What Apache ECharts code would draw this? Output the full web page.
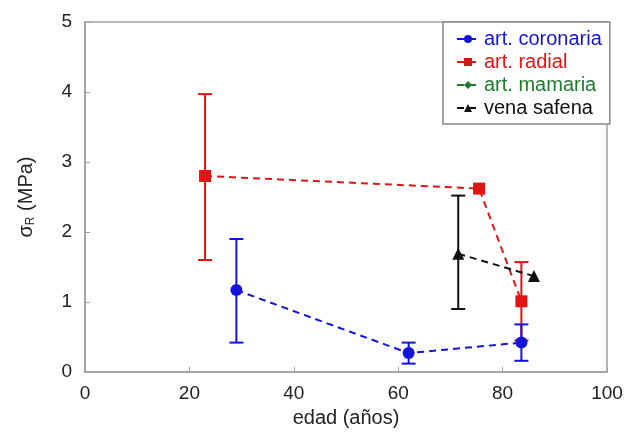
<!DOCTYPE html>
<html>
<head>
<meta charset="utf-8">
<script src="https://cdn.jsdelivr.net/npm/echarts@6/dist/echarts.min.js"></script>
<style>
  html, body { margin: 0; padding: 0; background: #fff; }
  #Echarts { width: 640px; height: 433px; }
</style>
</head>
<body>
<div id="Echarts"></div>
<script>
// datos
var coronariaEdad = [29, 62, 83.6];
var coronariaSigma = [1.17, 0.27, 0.42];
var coronariaMin = [0.42, 0.12, 0.16];
var coronariaMax = [1.90, 0.42, 0.68];

var radialEdad = [23, 75.5, 83.6];
var radialSigma = [2.80, 2.62, 1.01];
var radialMin = [1.60, 2.62, 0.45];
var radialMax = [3.97, 2.62, 1.57];

var mamariaEdad = [];
var mamariaSigma = [];

var safenaEdad = [71.5, 86];
var safenaSigma = [1.69, 1.37];
var safenaMin = [0.90, 1.37];
var safenaMax = [2.52, 1.37];

var xTicks = [0, 20, 40, 60, 80, 100];
var yTicks = [0, 1, 2, 3, 4, 5];

var AZUL = '#1414d8', ROJO = '#e01414', VERDE = '#1f7a2c', NEGRO = '#111';

function pares(xs, ys) {
    return xs.map(function (x, i) { return [x, ys[i]]; });
}
function barras(xs, lo, hi) {
    var out = [];
    xs.forEach(function (x, i) {
        if (hi[i] - lo[i] > 0.01) out.push([x, lo[i], hi[i]]);
    });
    return out;
}
function errorBar(color, data) {
    return {
        type: 'custom',
        silent: true,
        data: data,
        encode: { x: 0, y: [1, 2] },
        z: 1,
        renderItem: function (params, api) {
            var x = api.value(0);
            var lo = api.coord([x, api.value(1)]);
            var hi = api.coord([x, api.value(2)]);
            var w = 7;
            var st = { stroke: color, lineWidth: 2, fill: null };
            return {
                type: 'group',
                children: [
                    { type: 'line', shape: { x1: lo[0], y1: lo[1], x2: hi[0], y2: hi[1] }, style: st },
                    { type: 'line', shape: { x1: lo[0] - w, y1: lo[1], x2: lo[0] + w, y2: lo[1] }, style: st },
                    { type: 'line', shape: { x1: hi[0] - w, y1: hi[1], x2: hi[0] + w, y2: hi[1] }, style: st }
                ]
            };
        }
    };
}
function linea(name, color, symbol, size, data) {
    return {
        name: name,
        type: 'line',
        data: data,
        symbol: symbol,
        symbolSize: size,
        z: 3,
        itemStyle: { color: color },
        lineStyle: { color: color, width: 2, type: [7, 5] }
    };
}

var myChart = echarts.init(document.getElementById('Echarts'));
var option = {
    animation: false,
    textStyle: { fontFamily: 'Liberation Sans, Arial, sans-serif' },
    grid: {
        left: 85, right: 33, top: 22, bottom: 61,
        show: true, borderColor: '#a0a0a0', borderWidth: 1.5
    },
    legend: {
        orient: 'vertical',
        left: 443, top: 22,
        padding: [7, 8, 6, 13],
        itemGap: 3,
        itemWidth: 22, itemHeight: 10,
        backgroundColor: '#fff',
        borderColor: '#888', borderWidth: 1.5,
        textStyle: { fontSize: 20 },
        data: [
            { name: 'art. coronaria', textStyle: { color: AZUL } },
            { name: 'art. radial', textStyle: { color: ROJO } },
            { name: 'art. mamaria', textStyle: { color: VERDE } },
            { name: 'vena safena', textStyle: { color: NEGRO } }
        ]
    },
    xAxis: {
        type: 'value', min: xTicks[0], max: xTicks[xTicks.length - 1], interval: 20,
        name: 'edad (años)', nameLocation: 'middle', nameGap: 36,
        nameTextStyle: { fontSize: 20, color: '#222' },
        axisLine: { lineStyle: { color: '#a0a0a0', width: 1.5 } },
        axisTick: { inside: true, length: 5, lineStyle: { color: '#a0a0a0' } },
        axisLabel: { fontSize: 19, color: '#222', margin: 12 },
        splitLine: { show: false }
    },
    yAxis: {
        type: 'value', min: yTicks[0], max: yTicks[yTicks.length - 1], interval: 1,
        name: '{s|σ}{r|R} (MPa)', nameLocation: 'middle', nameGap: 48, nameRotate: 90,
        nameTextStyle: {
            fontSize: 20, color: '#222',
            rich: {
                s: { fontSize: 20, color: '#222' },
                r: { fontSize: 12, color: '#222', verticalAlign: 'bottom', padding: [10, 0, 0, 0] }
            }
        },
        axisLine: { lineStyle: { color: '#a0a0a0', width: 1.5 } },
        axisTick: { inside: true, length: 5, lineStyle: { color: '#a0a0a0' } },
        axisLabel: { fontSize: 19, color: '#222', margin: 13 },
        splitLine: { show: false }
    },
    series: [
        errorBar(ROJO, barras(radialEdad, radialMin, radialMax)),
        errorBar(NEGRO, barras(safenaEdad, safenaMin, safenaMax)),
        errorBar(AZUL, barras(coronariaEdad, coronariaMin, coronariaMax)),
        linea('art. radial', ROJO, 'rect', 12, pares(radialEdad, radialSigma)),
        linea('vena safena', NEGRO, 'triangle', 12, pares(safenaEdad, safenaSigma)),
        linea('art. mamaria', VERDE, 'diamond', 12, pares(mamariaEdad, mamariaSigma)),
        linea('art. coronaria', AZUL, 'circle', 12, pares(coronariaEdad, coronariaSigma))
    ]
};
myChart.setOption(option);
</script>
</body>
</html>
